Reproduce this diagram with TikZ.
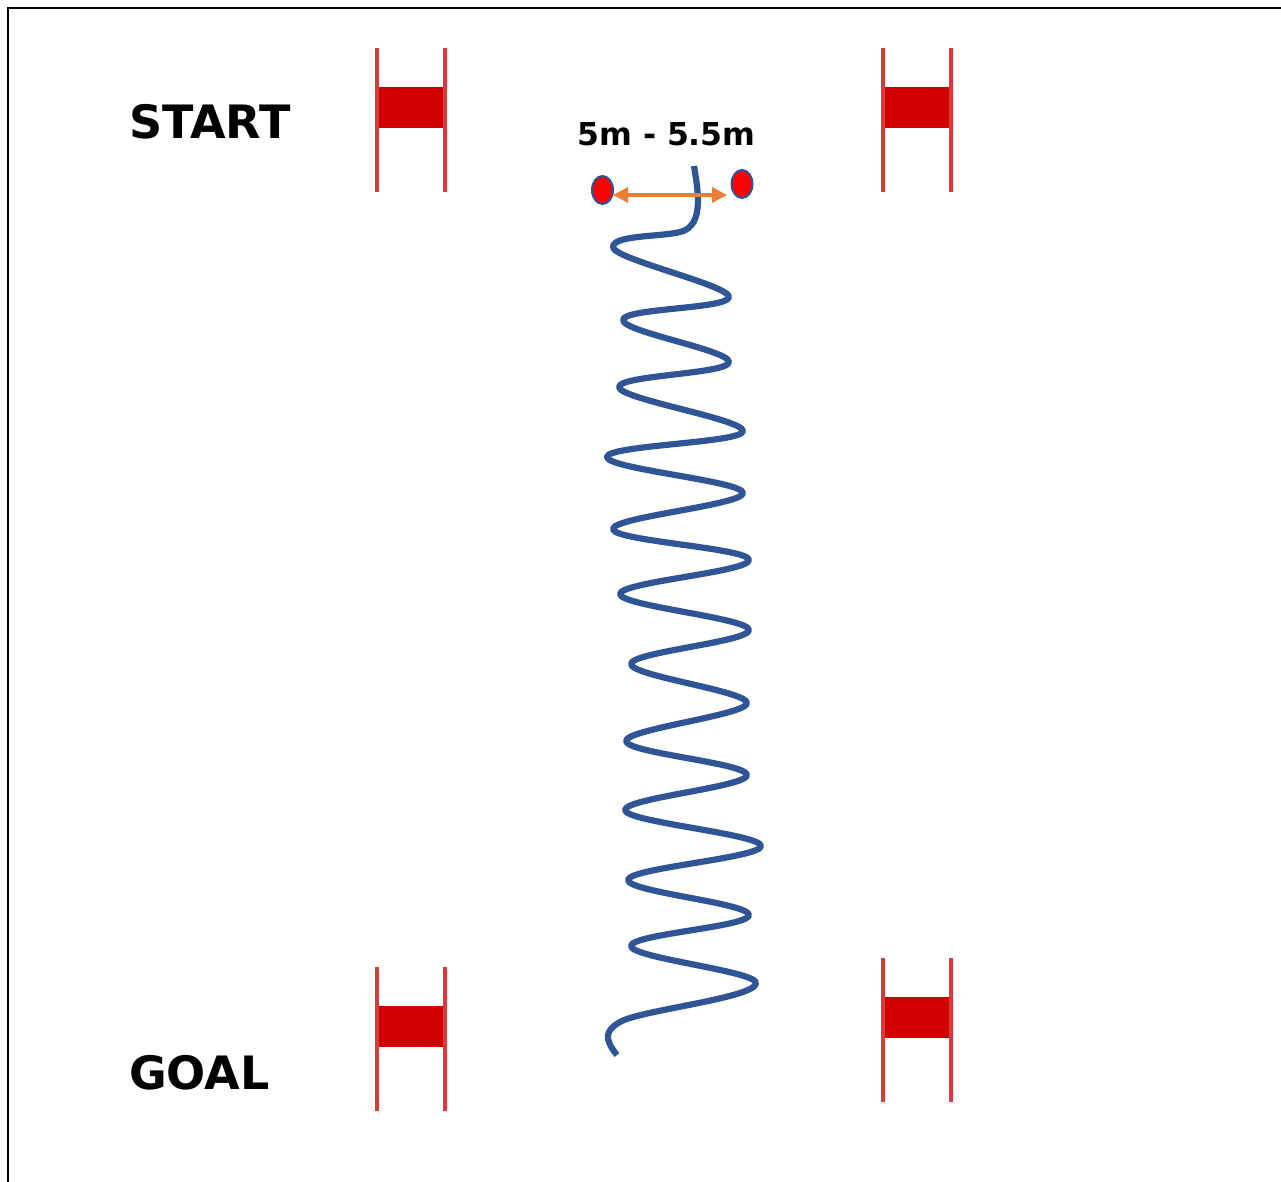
\documentclass[tikz,border=0pt]{standalone}
\usepackage{fontspec}
\setmainfont{DejaVu Sans}
\usetikzlibrary{arrows.meta,shapes.geometric}
\definecolor{wave}{HTML}{2F5597}
\definecolor{arrowc}{HTML}{ED7D31}
\definecolor{postc}{HTML}{D93A3A}
\definecolor{barc}{HTML}{D00000}
\tikzset{
  x=1pt,y=-1pt,
  frameline/.style={black,line width=2pt},
  swing/.style={out=-90,in=90,distance=12pt},
  wavepath/.style={wave,line width=6.2pt,line join=round},
  cone/.style={ellipse,draw=wave,fill=red,line width=2pt,minimum width=21pt,minimum height=28pt,inner sep=0pt},
  span/.style={arrowc,line width=3.2pt,{Triangle[length=15pt,width=15pt]}-{Triangle[length=15pt,width=15pt]}},
  biglabel/.style={font=\bfseries\fontsize{46}{46}\selectfont,anchor=west,inner sep=0pt},
  smalllabel/.style={font=\bfseries\fontsize{31.5}{31.5}\selectfont,inner sep=0pt},
  gate/.pic={
    \fill[barc] (0,39) rectangle (68,80);
    \draw[postc,line width=3.5pt] (0,0) -- (0,144);
    \draw[postc,line width=3.5pt] (68,0) -- (68,144);
  }
}
\begin{document}
\begin{tikzpicture}
\useasboundingbox[fill=white] (0,0) rectangle (1281,1182);
\draw[frameline] (1281,8) -- (8,8) -- (8,1182);
\pic at (377,48) {gate};
\pic at (883,48) {gate};
\pic at (377,967) {gate};
\pic at (883,958) {gate};
\node[biglabel] (start) at (129,122) {START};
\node[biglabel] (goal) at (129,1073) {GOAL};
\node[smalllabel] (dist) at (666.5,134) {5m - 5.5m};
\node[cone] (coneL) at (602.5,190) {};
\node[cone] (coneR) at (742,184) {};
\draw[wavepath] (694,166) .. controls (697,186) and (706,226) .. (680,232)
  .. controls (660,237) and (613,235) .. (613,247)
  to[swing] (729,297) to[swing] (623,320) to[swing] (729,362)
  to[swing] (619,387) to[swing] (743,431) to[swing] (607,457)
  to[swing] (743,493) to[swing] (613,529) to[swing] (749,560)
  to[swing] (620,594) to[swing] (749,630) to[swing] (631,664)
  to[swing] (747,703) to[swing] (626,741) to[swing] (747,775)
  to[swing] (625,810) to[swing] (761,846) to[swing] (628,880)
  to[swing] (749,915) to[swing] (631,946) to[swing] (756,983)
  .. controls (756,998) and (640,1010) .. (620,1022)
  .. controls (606,1030) and (603,1038) .. (617,1055);
\coordinate (arrowL) at (613,195);
\coordinate (arrowR) at (727,195);
\draw[span] (arrowL) -- (arrowR);
\end{tikzpicture}
\end{document}
